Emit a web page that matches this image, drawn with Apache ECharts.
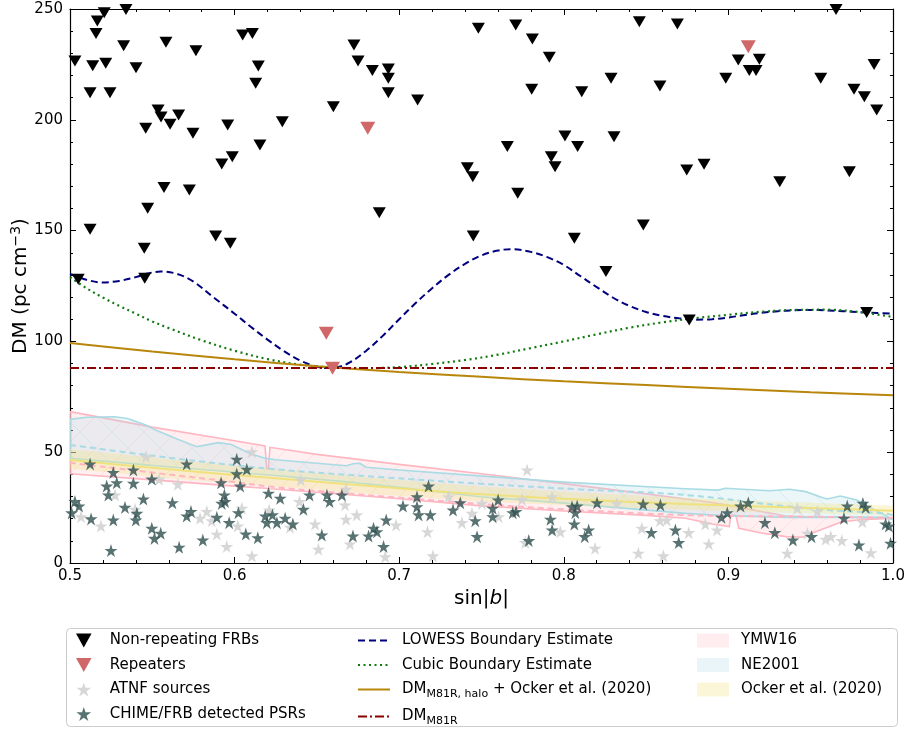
<!DOCTYPE html>
<html><head><meta charset="utf-8">
<script src="https://cdn.jsdelivr.net/npm/echarts@6/dist/echarts.min.js"></script>
<style>html,body{margin:0;padding:0;background:#fff}#c{width:904px;height:734px}</style>
</head><body><div id="c"></div>
<script>
// ---------------- data ----------------
const nonRepX = [0.503,0.5138,0.5217,0.5158,0.5166,0.5208,0.534,0.5326,0.5401,0.5122,0.5243,0.5583,0.5765,0.5535,0.5553,0.566,0.546,0.5608,0.5747,0.5958,0.6049,0.6108,0.6144,0.6128,0.6154,0.629,0.66,0.6725,0.675,0.5922,0.5986,0.5571,0.5725,0.5472,0.5122,0.5885,0.5974,0.5451,0.5454,0.505,0.6837,0.6934,0.6934,0.6934,0.7112,0.7481,0.7708,0.7809,0.7912,0.7805,0.8109,0.8287,0.8459,0.6879,0.7657,0.8007,0.8084,0.7924,0.7947,0.7414,0.7447,0.772,0.8305,0.745,0.8064,0.8483,0.8256,0.869,0.8584,0.906,0.9188,0.9127,0.9168,0.8984,0.9561,0.9763,0.9826,0.9901,0.9885,0.9654,0.8747,0.8852,0.9312,0.9735,0.8762,0.984];
const nonRepY = [226.5,224.4,225.5,239.0,244.6,248.3,249.8,233.4,223.5,212.2,212.2,235.0,231.2,204.4,201.3,202.2,196.2,198.0,193.9,197.7,238.3,239.0,224.3,216.5,188.6,199.1,205.9,233.8,226.5,180.1,183.3,169.5,168.3,160.1,150.6,147.6,144.3,142.0,128.5,128.0,222.2,222.9,218.7,212.2,208.9,241.3,242.8,236.5,228.2,213.8,212.7,218.7,244.3,158.1,187.9,192.7,187.9,183.3,178.8,178.4,174.3,166.8,192.4,147.6,146.5,152.5,131.5,243.2,215.3,227.0,227.3,222.2,222.2,218.7,218.7,213.8,210.4,204.4,225.0,249.8,177.3,179.9,172.1,176.6,109.7,113.0];

const repX = [0.6557,0.6595,0.6809,0.9121];
const repY = [103.7,87.9,196.2,233.0];

const atnfX = [0.5462,0.6105,0.5274,0.5655,0.5541,0.5067,0.5188,0.5395,0.579,0.5831,0.5861,0.5892,0.5952,0.6105,0.6019,0.6044,0.621,0.6402,0.6394,0.6489,0.6509,0.6671,0.6677,0.6742,0.6701,0.6677,0.6981,0.6915,0.7172,0.7205,0.73,0.7381,0.7442,0.6337,0.7777,0.7766,0.7979,0.7929,0.7746,0.7604,0.7503,0.819,0.8322,0.8453,0.8474,0.8605,0.8584,0.8625,0.8759,0.886,0.8931,0.8881,0.9358,0.948,0.9591,0.9622,0.9689,0.9866,0.9418,0.954,0.9814];
const atnfY = [48.0,50.2,30.7,35.5,37.8,20.9,16.7,24.2,20.2,23.2,19.1,13.0,7.4,3.2,16.7,24.7,23.9,37.5,27.7,17.6,6.2,26.2,19.7,21.7,8.6,33.3,17.1,2.8,14.1,3.2,29.9,18.2,22.4,16.1,42.0,9.2,14.1,29.9,28.7,20.9,26.9,6.6,26.9,4.4,15.7,3.2,19.1,19.4,13.7,17.6,14.9,8.6,4.4,13.4,10.7,11.9,10.1,4.6,24.7,23.2,18.6];

const chimeX = [0.5122,0.5263,0.5223,0.5284,0.5385,0.5385,0.5233,0.5497,0.5446,0.5334,0.5263,0.5128,0.503,0.5055,0.501,0.5406,0.54,0.5497,0.5551,0.5513,0.5249,0.5622,0.5709,0.5735,0.5709,0.5663,0.5807,0.5892,0.5967,0.6023,0.6068,0.6141,0.6013,0.6074,0.6013,0.5918,0.5938,0.5922,0.5942,0.6034,0.6206,0.6186,0.6196,0.623,0.6277,0.6257,0.6307,0.6354,0.6418,0.6455,0.6561,0.6577,0.6652,0.653,0.6719,0.6814,0.6844,0.6865,0.6921,0.6905,0.7023,0.7108,0.7108,0.7118,0.7189,0.7178,0.7327,0.7371,0.7473,0.7462,0.7568,0.7568,0.7601,0.769,0.771,0.7787,0.7919,0.7929,0.8064,0.805,0.8081,0.807,0.8151,0.8127,0.8202,0.8482,0.8587,0.8532,0.8678,0.8698,0.8958,0.8993,0.9074,0.9121,0.9222,0.9282,0.9392,0.9505,0.9722,0.9702,0.9817,0.9834,0.9793,0.9955,0.9975,0.9985];
const chimeY = [44.7,40.8,34.7,36.2,42.0,36.0,30.7,37.9,28.9,25.1,19.4,19.9,27.7,25.7,22.6,22.4,19.4,15.7,13.4,11.1,5.6,27.2,44.7,23.2,21.2,7.1,10.4,20.6,18.2,22.7,13.1,11.4,46.8,42.3,40.2,36.2,30.7,26.9,27.7,34.7,31.5,21.2,18.2,21.7,29.2,18.2,20.2,17.6,24.2,30.7,30.7,27.7,30.7,12.6,12.2,12.2,15.7,14.1,19.4,7.4,25.7,29.9,25.4,21.7,21.7,34.7,23.9,27.2,11.9,19.1,24.7,20.9,28.4,22.7,23.2,10.1,19.7,14.9,17.6,25.4,25.7,22.7,14.9,11.9,27.2,26.6,26.2,13.7,14.9,9.2,20.6,22.7,25.7,27.2,18.2,13.7,10.4,11.9,25.7,20.2,26.9,25.1,8.1,17.6,16.7,8.9];

const lowessX = [0.50,0.51,0.52,0.53,0.54,0.547,0.555,0.565,0.575,0.587,0.60,0.61,0.62,0.63,0.64,0.648,0.655,0.662,0.67,0.68,0.69,0.70,0.71,0.72,0.73,0.74,0.75,0.76,0.768,0.78,0.79,0.80,0.81,0.82,0.83,0.84,0.85,0.86,0.87,0.88,0.89,0.90,0.91,0.92,0.93,0.94,0.95,0.96,0.97,0.98,0.99,1.0];
const lowessY = [130.4,127.8,126.6,127.3,129.0,130.6,131.5,130.5,127.0,120.0,112.5,106.5,100.8,95.6,91.3,89.0,88.0,88.3,90.5,95.8,102.5,110.0,117.3,124.0,130.0,135.0,138.8,141.0,141.6,140.4,138.0,134.5,129.5,124.5,119.7,116.0,113.3,111.5,110.4,109.8,110.0,110.8,111.9,112.9,113.6,114.0,114.2,114.0,113.6,113.2,112.8,112.6];

const cubicX = [0.50,0.51,0.52,0.53,0.54,0.55,0.56,0.58,0.60,0.62,0.64,0.66,0.68,0.70,0.72,0.74,0.76,0.78,0.80,0.82,0.84,0.86,0.88,0.90,0.92,0.94,0.96,0.98,1.0];
const cubicY = [129.0,124.0,119.8,116.0,112.5,109.0,106.0,100.5,95.8,92.0,89.5,88.2,87.9,88.4,89.8,91.6,94.0,97.0,100.0,103.2,106.2,108.6,110.5,112.0,113.4,114.2,114.3,113.2,111.0];

const haloX = [0.50,0.55,0.60,0.65,0.70,0.75,0.80,0.85,0.90,0.95,1.0];
const haloY = [99.3,95.4,91.9,88.8,86.2,84.0,82.0,80.3,78.6,77.1,75.7];

const m81rX = [0.5,1.0];
const m81rY = [88.0,88.0];

const ymwX  = [0.5,0.55,0.6,0.6185,0.6195,0.6205,0.6215,0.65,0.7,0.75,0.8,0.85,0.874,0.89,0.9005,0.9015,0.9045,0.9063,0.92,0.935,0.945,0.953,0.969,0.98,1.0];
const ymwHi = [68.3,61.3,55.2,52.8,42.5,42.5,52.2,49.0,44.5,40.3,35.8,31.2,28.9,27.3,26.0,25.8,25.4,25.2,23.2,21.2,20.9,20.8,20.7,20.6,20.0];
const ymwLo = [40.3,37.5,34.7,33.7,33.6,33.6,33.5,31.9,29.0,25.8,23.5,21.5,20.2,17.6,16.4,21.5,21.5,15.7,13.5,11.9,11.6,14.1,18.6,19.5,20.2];
const ymwMedX = [0.5,0.55,0.6,0.625,0.65,0.7,0.75,0.8,0.85,0.874,0.9,0.95,1.0];
const ymwMed  = [45.2,40.8,36.5,34.2,32.5,29.5,26.6,24.2,22.3,21.6,21.2,20.9,20.4];

const neX  = [0.5,0.51,0.527,0.535,0.546,0.552,0.565,0.577,0.583,0.59,0.598,0.609,0.619,0.625,0.668,0.672,0.676,0.68,0.7,0.749,0.8,0.874,0.894,0.898,0.925,0.937,0.947,0.957,0.96,0.968,0.978,0.987,0.995,1.0];
const neHi = [64.8,65.8,66.0,65.2,62.3,60.0,56.0,52.5,53.3,54.3,53.5,49.5,47.2,46.6,43.9,44.8,45.0,43.2,42.0,39.3,36.5,33.5,32.9,33.7,32.6,33.3,32.2,29.6,28.9,30.2,28.4,24.7,21.7,19.7];
const neLo = [47.2,46.6,45.5,45.0,44.3,43.9,43.1,42.4,42.0,41.6,41.1,40.4,39.8,39.5,36.6,36.3,36.0,35.7,34.2,29.9,27.0,22.4,21.5,21.4,20.8,20.6,20.6,20.6,20.6,20.6,20.6,20.6,20.6,19.6];
const neMedX = [0.5,0.56,0.625,0.69,0.749,0.81,0.874,0.934,0.96,0.995,1.0];
const neMed  = [53.3,47.5,42.3,38.7,35.8,33.2,30.7,25.7,23.9,22.4,21.5];

const ockX  = [0.5,0.56,0.625,0.69,0.75,0.81,0.874,0.94,1.0];
const ockHi = [51.5,46.8,42.3,38.0,34.5,31.8,29.3,27.4,26.0];
const ockLo = [42.5,38.2,34.5,30.8,27.8,25.8,24.0,22.6,21.5];
const ockMid = [46.5,42.3,38.2,34.3,31.0,28.6,26.6,25.0,23.6];

const xTickLabels = ['0.5','0.6','0.7','0.8','0.9','1.0'];

// ---------------- helpers ----------------
const pairs = (xs, ys) => xs.map((x, i) => [x, ys[i]]);
const TRI = 'path://M0,0 L10,0 L5,9 Z';
const STAR = 'path://M50,0 L61.2,34.5 L97.6,34.5 L68.2,55.9 L79.4,90.5 L50,69.1 L20.6,90.5 L31.8,55.9 L2.4,34.5 L38.8,34.5 Z';

function hatch(color, dir) {
  const s = 32;
  const c = document.createElement('canvas');
  c.width = s; c.height = s;
  const g = c.getContext('2d');
  g.strokeStyle = color; g.lineWidth = 1;
  g.beginPath();
  if (dir > 0) {
    for (let k = -1; k <= 1; k++) { g.moveTo(k * s, s); g.lineTo(k * s + s, 0); }
  } else {
    for (let k = -1; k <= 1; k++) { g.moveTo(k * s, 0); g.lineTo(k * s + s, s); }
  }
  g.stroke();
  return c;
}

function band(name, xs, lo, hi, fill, stroke, hatchCanvas, z) {
  return {
    type: 'custom', name, coordinateSystem: 'cartesian2d', z, clip: true, silent: true,
    data: xs.map((x, i) => [x, lo[i], hi[i]]),
    encode: { x: 0, y: [1, 2] },
    itemStyle: { color: fill },
    renderItem: (params, api) => {
      if (params.dataIndex !== 0) return null;
      const top = xs.map((x, i) => api.coord([x, hi[i]]));
      const bot = xs.map((x, i) => api.coord([x, lo[i]])).reverse();
      const pts = top.concat(bot);
      const children = [
        { type: 'polygon', shape: { points: pts }, style: { fill: fill, stroke: null } },
        { type: 'polygon', shape: { points: pts }, style: { fill: { image: hatchCanvas, repeat: 'repeat' }, stroke: stroke, lineWidth: stroke ? 1.6 : 0 } }
      ];
      return { type: 'group', children };
    }
  };
}

function line(name, xs, ys, color, type, width, z, smooth) {
  return {
    type: 'line', name, data: pairs(xs, ys), symbol: 'none', smooth: smooth ? 0.35 : false, z,
    lineStyle: { color, type, width }, itemStyle: { color }, silent: true
  };
}

const chart = echarts.init(document.getElementById('c'), null, { renderer: 'canvas' });
const FONT = 'DejaVu Sans';

const axisCommon = {
  axisLine: { show: true, onZero: false, lineStyle: { color: '#000', width: 1.2 } },
  axisTick: { show: true, inside: true, length: 6, lineStyle: { color: '#000', width: 1 } },
  minorTick: { show: true, splitNumber: 5, length: 3, lineStyle: { color: '#000', width: 1 } },
  splitLine: { show: false }, minorSplitLine: { show: false }
};

const legendText = {
  fontFamily: FONT, fontSize: 15, color: '#000', padding: [0, 0, 0, 7],
  rich: { sub: { fontFamily: FONT, fontSize: 11, color: '#000', verticalAlign: 'bottom', padding: [9, 0, 0, 0] },
          n: { fontFamily: FONT, fontSize: 15, color: '#000' } }
};
function legendFmt(name) {
  if (name === 'DMhalo') return 'DM{sub|M81R, halo} + Ocker et al. (2020)';
  if (name === 'DMm81r') return 'DM{sub|M81R}';
  return name;
}

const option = {
  animation: false,
  backgroundColor: '#fff',
  grid: { left: 70, right: 11, top: 9, bottom: 171, containLabel: false, outerBoundsMode: 'none' },
  xAxis: [
    Object.assign({}, axisCommon, {
      type: 'value', min: 0.5, max: 1.0, interval: 0.1, position: 'bottom',
      name: 'sin|{i|b}|', nameLocation: 'middle', nameGap: 24,
      nameTextStyle: { fontFamily: FONT, fontSize: 20, color: '#000',
        rich: { i: { fontFamily: FONT, fontSize: 20, fontStyle: 'italic', color: '#000' } } },
      axisLabel: { show: true, fontFamily: FONT, fontSize: 15, color: '#000', margin: 6,
        formatter: v => xTickLabels[Math.round((v - 0.5) * 10)] }
    }),
    Object.assign({}, axisCommon, {
      type: 'value', min: 0.5, max: 1.0, interval: 0.1, position: 'top',
      axisLabel: { show: false }
    })
  ],
  yAxis: [
    Object.assign({}, axisCommon, {
      type: 'value', min: 0, max: 250, interval: 50, position: 'left',
      name: 'DM (pc cm{sup|−3})', nameLocation: 'middle', nameGap: 37, nameMoveOverlap: false,
      nameTextStyle: { fontFamily: FONT, fontSize: 20, color: '#000',
        rich: { sup: { fontFamily: FONT, fontSize: 14, color: '#000', verticalAlign: 'top', padding: [0, 0, 10, 0] } } },
      axisLabel: { show: true, fontFamily: FONT, fontSize: 15, color: '#000', margin: 7 }
    }),
    Object.assign({}, axisCommon, {
      type: 'value', min: 0, max: 250, interval: 50, position: 'right',
      axisLabel: { show: false }
    })
  ],
  legend: [
    {
      left: 76, top: 633, orient: 'vertical', itemWidth: 28, itemHeight: 14, itemGap: 9.5, padding: 0,
      textStyle: legendText, formatter: legendFmt, selectedMode: false,
      data: [
        { name: 'Non-repeating FRBs', icon: TRI },
        { name: 'Repeaters', icon: TRI },
        { name: 'ATNF sources', icon: STAR },
        { name: 'CHIME/FRB detected PSRs', icon: STAR }
      ]
    },
    {
      left: 357, top: 633, orient: 'vertical', itemWidth: 32, itemHeight: 14, itemGap: 9.5, padding: 0,
      textStyle: legendText, formatter: legendFmt, selectedMode: false,
      itemStyle: { opacity: 0 },
      data: ['LOWESS Boundary Estimate', 'Cubic Boundary Estimate', 'DMhalo', 'DMm81r']
    },
    {
      left: 697, top: 633, orient: 'vertical', itemWidth: 32, itemHeight: 14, itemGap: 9.5, padding: 0,
      textStyle: legendText, formatter: legendFmt, selectedMode: false,
      data: [
        { name: 'YMW16', icon: 'rect', itemStyle: { color: 'rgba(255,182,193,0.25)' } },
        { name: 'NE2001', icon: 'rect', itemStyle: { color: 'rgba(173,216,230,0.25)' } },
        { name: 'Ocker et al. (2020)', icon: 'rect', itemStyle: { color: 'rgba(240,230,140,0.35)' } }
      ]
    }
  ],
  graphic: [
    { type: 'rect', left: 66, top: 628, z: -10, silent: true,
      shape: { width: 831, height: 98, r: 4 }, style: { fill: '#fff', stroke: '#cccccc', lineWidth: 1 } }
  ],
  series: [
    band('YMW16', ymwX, ymwLo, ymwHi, 'rgba(255,182,193,0.22)', '#ffb6c1', hatch('rgba(255,182,193,0.3)', 1), 1),
    band('NE2001', neX, neLo, neHi, 'rgba(173,216,230,0.24)', '#a9dbe4', hatch('rgba(173,216,230,0.35)', -1), 2),
    band('Ocker et al. (2020)', ockX, ockLo, ockHi, 'rgba(240,230,140,0.35)', null, hatch('rgba(240,230,140,0.4)', 1), 3),
    line('YMW16 median', ymwMedX, ymwMed, '#ffb6c1', [6, 4], 2, 4, true),
    line('NE2001 median', neMedX, neMed, '#a9dbe4', [6, 4], 2, 4, true),
    line('Ocker median', ockX, ockMid, '#efe27e', 'solid', 2, 4, true),
    {
      type: 'scatter', name: 'ATNF sources', data: pairs(atnfX, atnfY), symbol: STAR, symbolSize: 13, z: 5,
      itemStyle: { color: 'rgba(211,211,211,0.9)', opacity: 1 }, silent: true
    },
    {
      type: 'scatter', name: 'CHIME/FRB detected PSRs', data: pairs(chimeX, chimeY), symbol: STAR, symbolSize: 13, z: 6,
      itemStyle: { color: 'rgba(47,79,79,0.8)', opacity: 1 }, silent: true
    },
    line('LOWESS Boundary Estimate', lowessX, lowessY, '#00007f', [7, 4], 2, 7, true),
    line('Cubic Boundary Estimate', cubicX, cubicY, '#117a11', [2, 3.5], 2.2, 7, true),
    line('DMhalo', haloX, haloY, '#b8860b', 'solid', 2, 7, true),
    line('DMm81r', m81rX, m81rY, '#8b0000', [9, 3, 2, 3], 2, 7, false),
    {
      type: 'scatter', name: 'Non-repeating FRBs', data: pairs(nonRepX, nonRepY), symbol: TRI, symbolSize: [13, 11], z: 8,
      itemStyle: { color: '#000', opacity: 1 }, silent: true
    },
    {
      type: 'scatter', name: 'Repeaters', data: pairs(repX, repY), symbol: TRI, symbolSize: [15, 13], z: 9,
      itemStyle: { color: '#d0686a', opacity: 1 }, silent: true
    }
  ]
};
chart.setOption(option);
</script>
</body></html>
